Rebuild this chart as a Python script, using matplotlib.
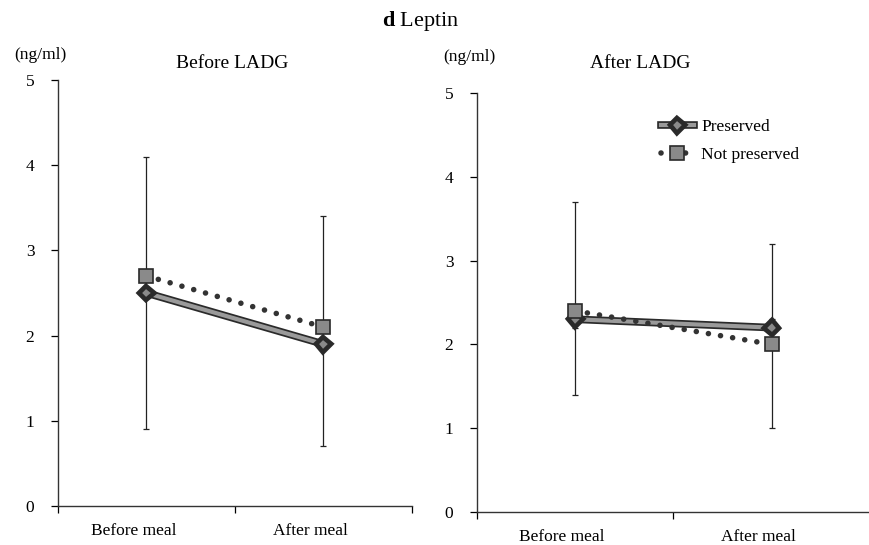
import matplotlib
matplotlib.use("Agg")
import matplotlib.pyplot as plt
import matplotlib.patheffects as pe
from matplotlib.transforms import ScaledTranslation

plt.rcParams['font.family'] = ['Liberation Serif', 'DejaVu Serif']
plt.rcParams['mathtext.fontset'] = 'custom'
plt.rcParams['mathtext.rm'] = 'Liberation Serif'
plt.rcParams['mathtext.bf'] = 'Liberation Serif:bold'

categories = ["Before meal", "After meal"]
series_names = ["Preserved", "Not preserved"]

# Before LADG
before_preserved = [2.5, 1.9]
before_not_preserved = [2.7, 2.1]
before_pres_low = [0.9, 0.7]
before_pres_high = [4.1, 3.4]

# After LADG
after_preserved = [2.3, 2.2]
after_not_preserved = [2.4, 2.0]
after_pres_low = [1.4, 1.0]
after_pres_high = [3.7, 3.2]
after_notp_low = [2.2, 2.0]
after_notp_high = [2.4, 2.3]

yticks = [0, 1, 2, 3, 4, 5]
FS = 12.5
EDGE = '#2a2a2a'
FILL = '#8a8a8a'

fig = plt.figure(figsize=(8.7, 5.45), dpi=100)

ax1 = fig.add_axes([58/870, 39/545, 354/870, 426/545])
ax2 = fig.add_axes([477/870, 33/545, 393/870, 419/545])


def draw(ax, pres, notp, errs):
    x = list(range(len(categories)))
    for (vals, lo, hi) in errs:
        ax.errorbar(x, vals, yerr=[[v - l for v, l in zip(vals, lo)],
                                   [h - v for v, h in zip(vals, hi)]],
                    fmt='none', ecolor='#222222', elinewidth=0.9,
                    capsize=2.2, capthick=0.9, zorder=2)
    ax.plot(x, pres, color='#9a9a9a', lw=3,
            path_effects=[pe.Stroke(linewidth=5.5, foreground=EDGE), pe.Normal()],
            marker='D', markersize=5.5, markerfacecolor=FILL,
            markeredgecolor=EDGE, markeredgewidth=1.2, zorder=3,
            label=series_names[0])
    ax.plot(x, notp, color='#333333', lw=4.0, linestyle=(0, (0.01, 2.2)),
            dash_capstyle='round', marker='s', markersize=9.5,
            markerfacecolor=FILL, markeredgecolor=EDGE, markeredgewidth=1.2,
            zorder=4, label=series_names[1])
    ax.set_xlim(-0.5, 1.5)
    ax.set_ylim(0, 5)
    ax.set_yticks(yticks)
    ax.set_yticklabels([str(t) for t in yticks], fontsize=FS)
    ax.set_xticks([-0.5, 0.5, 1.5])
    ax.set_xticklabels([])
    ax.set_xticks(x, minor=True)
    ax.set_xticklabels(categories, minor=True, fontsize=FS)
    ax.tick_params(axis='x', which='major', length=5, width=0.9, direction='out')
    ax.tick_params(axis='x', which='minor', length=0, pad=12)
    ax.tick_params(axis='y', length=5, width=0.9, direction='out', pad=12)
    off = ScaledTranslation(-13/100, 0, fig.dpi_scale_trans)
    for lab in ax.get_xminorticklabels():
        lab.set_transform(lab.get_transform() + off)
    for s in ['top', 'right']:
        ax.spines[s].set_visible(False)
    for s in ['left', 'bottom']:
        ax.spines[s].set_color('#333333')
        ax.spines[s].set_linewidth(1.0)


draw(ax1, before_preserved, before_not_preserved,
     [(before_preserved, before_pres_low, before_pres_high)])
draw(ax2, after_preserved, after_not_preserved,
     [(after_preserved, after_pres_low, after_pres_high),
      (after_not_preserved, after_notp_low, after_notp_high)])

fig.text(40/870, 1 - 55/545, "(ng/ml)", fontsize=FS, ha='center', va='center')
fig.text(469/870, 1 - 57/545, "(ng/ml)", fontsize=FS, ha='center', va='center')
fig.text(232/870, 1 - 64/545, "Before LADG", fontsize=14, ha='center', va='center')
fig.text(640/870, 1 - 64/545, "After LADG", fontsize=14, ha='center', va='center')
fig.text(421/870, 1 - 21/545, r"$\mathbf{d}$ Leptin", fontsize=16,
         ha='center', va='center')

leg = ax2.legend(loc='center left', bbox_to_anchor=(645/870, 1 - 141/545),
                 bbox_transform=fig.transFigure, frameon=False, fontsize=FS,
                 handlelength=1.9, handletextpad=0.45, labelspacing=0.65,
                 numpoints=1)

fig.savefig("out.png", dpi=100)
